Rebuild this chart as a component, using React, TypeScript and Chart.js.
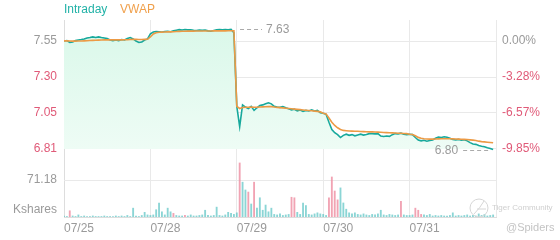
import React, { useEffect, useRef } from 'react';
import { Chart, registerables } from 'chart.js';

Chart.register(...registerables);

// ---- data ----
const dates = ['07/25', '07/28', '07/29', '07/30', '07/31'];
const PTS_PER_DAY = 30;

const intraday = [
  // 07/25
  7.550, 7.553, 7.540, 7.543, 7.553, 7.557, 7.560, 7.564, 7.571, 7.574, 7.578, 7.574, 7.578, 7.574, 7.571,
  7.567, 7.557, 7.553, 7.557, 7.553, 7.560, 7.557, 7.567, 7.574, 7.564, 7.550, 7.540, 7.543, 7.557, 7.564,
  // 07/28
  7.600, 7.612, 7.615, 7.614, 7.612, 7.615, 7.617, 7.614, 7.620, 7.624, 7.628, 7.626, 7.629, 7.627, 7.628,
  7.624, 7.622, 7.625, 7.623, 7.626, 7.620, 7.617, 7.622, 7.627, 7.629, 7.627, 7.629, 7.628, 7.631, 7.606,
  // 07/29
  7.100, 6.960, 7.110, 7.095, 7.085, 7.100, 7.072, 7.090, 7.105, 7.110, 7.118, 7.124, 7.117, 7.100, 7.095,
  7.093, 7.098, 7.090, 7.083, 7.075, 7.080, 7.068, 7.075, 7.065, 7.072, 7.068, 7.075, 7.068, 7.072, 7.055,
  // 07/30
  7.052, 7.045, 6.990, 6.940, 6.918, 6.905, 6.885, 6.900, 6.908, 6.900, 6.905, 6.897, 6.903, 6.908, 6.902,
  6.906, 6.912, 6.912, 6.910, 6.912, 6.895, 6.892, 6.895, 6.893, 6.905, 6.912, 6.910, 6.915, 6.908, 6.905,
  // 07/31
  6.908, 6.905, 6.885, 6.868, 6.862, 6.866, 6.860, 6.865, 6.868, 6.880, 6.888, 6.885, 6.890, 6.887, 6.880,
  6.872, 6.868, 6.872, 6.866, 6.870, 6.862, 6.850, 6.840, 6.838, 6.830, 6.825, 6.822, 6.815, 6.810, 6.802,
];

const vwap = [
  // 07/25
  7.551, 7.551, 7.550, 7.549, 7.549, 7.550, 7.550, 7.551, 7.552, 7.553, 7.554, 7.555, 7.556, 7.557, 7.558,
  7.558, 7.558, 7.558, 7.558, 7.558, 7.558, 7.559, 7.559, 7.560, 7.561, 7.561, 7.560, 7.560, 7.561, 7.562,
  // 07/28
  7.578, 7.598, 7.607, 7.610, 7.611, 7.612, 7.613, 7.613, 7.614, 7.615, 7.616, 7.617, 7.617, 7.618, 7.618,
  7.618, 7.619, 7.619, 7.619, 7.619, 7.619, 7.619, 7.620, 7.620, 7.620, 7.620, 7.620, 7.621, 7.621, 7.620,
  // 07/29
  7.100, 7.085, 7.092, 7.094, 7.094, 7.095, 7.094, 7.094, 7.095, 7.096, 7.097, 7.098, 7.098, 7.095, 7.093,
  7.091, 7.089, 7.087, 7.085, 7.083, 7.081, 7.079, 7.077, 7.075, 7.073, 7.071, 7.069, 7.067, 7.065, 7.062,
  // 07/30
  7.052, 7.048, 7.020, 6.990, 6.968, 6.952, 6.940, 6.934, 6.932, 6.930, 6.929, 6.928, 6.928, 6.927, 6.926,
  6.925, 6.924, 6.924, 6.923, 6.922, 6.921, 6.920, 6.919, 6.918, 6.917, 6.916, 6.915, 6.914, 6.913, 6.912,
  // 07/31
  6.908, 6.906, 6.897, 6.886, 6.880, 6.877, 6.875, 6.874, 6.874, 6.875, 6.876, 6.877, 6.877, 6.877, 6.877,
  6.876, 6.875, 6.874, 6.873, 6.872, 6.871, 6.869, 6.867, 6.865, 6.860, 6.857, 6.855, 6.853, 6.851, 6.849,
];

// volume in thousand shares
const volume = [
  // 07/25
  2, 1, 12, 2, 1, 4, 1, 2, 1, 1, 2, 1, 1, 1, 2, 1, 1, 1, 2, 1, 2, 1, 3, 1, 17, 2, 1, 3, 9, 4,
  // 07/28
  3, 4, 14, 27, 10, 4, 17, 10, 7, 3, 2, 2, 3, 2, 4, 2, 2, 3, 4, 13, 3, 2, 3, 19, 3, 2, 4, 9, 7, 5,
  // 07/29
  8, 104, 67, 52, 48, 25, 67, 17, 37, 13, 23, 10, 17, 5, 4, 6, 3, 4, 5, 38, 37, 9, 5, 27, 22, 5, 4, 6, 8, 6,
  // 07/30
  5, 3, 37, 77, 50, 33, 56, 27, 15, 8, 6, 8, 5, 4, 6, 4, 3, 5, 4, 6, 13, 4, 3, 5, 4, 3, 4, 30, 4, 3,
  // 07/31
  3, 4, 17, 13, 5, 4, 3, 5, 2, 3, 2, 3, 2, 2, 3, 8, 2, 3, 2, 3, 4, 2, 3, 2, 6, 3, 5, 2, 3, 4,
];

// u = up tick (teal), d = down tick (pink)
const volumeDirection = [
  'uuduuuuuuuuuuuuuuuuuuuuuuuuuuu',
  'uuuuuuuuduuuduuuuuuuuuuuuuuuuu',
  'uduududuuuuuuuuuuuudduuuuuuuuu',
  'uudddduuuuuuuuuuuuuuuuuuuuuduu',
  'uuddduuuuuuuuuuuuuuuuuuuuuuuuu',
].join('').split('');

const priceTicks = [7.55, 7.302, 7.054, 6.806];
const priceTickLabels = ['7.55', '7.30', '7.05', '6.81'];
const pctTickLabels = ['0.00%', '-3.28%', '-6.57%', '-9.85%'];
const volumeTick = 71.18;
const volumeTickLabel = '71.18';
const volumeUnit = 'Kshares';

// ---- style ----
const FONT = "'Liberation Sans', Arial, Helvetica, sans-serif";
const TEAL = '#17a99c';
const ORANGE = '#ec9a45';
const GREY = '#9a9a9a';
const RED = '#e05a78';
const GRID = '#e9e9e9';
const Y_MIN = 6.3375;
const Y_MAX = 7.6947;
const V_MAX = 379;

const xs = intraday.map((_, k) => Math.floor(k / PTS_PER_DAY) + (k % PTS_PER_DAY) / PTS_PER_DAY);

const overlayPlugin = {
  id: 'overlay',
  beforeDatasetsDraw(chart: any) {
    const { ctx, chartArea } = chart;
    const yv = chart.scales.yv;
    const py = Math.round(yv.getPixelForValue(volumeTick)) + 0.5;
    ctx.save();
    ctx.strokeStyle = GRID;
    ctx.lineWidth = 1;
    ctx.beginPath();
    ctx.moveTo(chartArea.left, py);
    ctx.lineTo(chartArea.right, py);
    ctx.stroke();
    ctx.restore();
  },
  afterDraw(chart: any) {
    const { ctx, chartArea, scales } = chart;
    const yv = scales.yv;
    const x = scales.x;
    const y = scales.y;
    ctx.save();
    // volume axis labels
    ctx.font = `12px ${FONT}`;
    ctx.fillStyle = GREY;
    ctx.textAlign = 'right';
    ctx.textBaseline = 'middle';
    ctx.fillText(volumeTickLabel, chartArea.left - 7, yv.getPixelForValue(volumeTick));
    ctx.fillText(volumeUnit, chartArea.left - 7, chartArea.bottom - 7);

    // legend
    ctx.textAlign = 'left';
    ctx.fillStyle = '#22b2a7';
    ctx.fillText('Intraday', chartArea.left, 10);
    ctx.fillStyle = '#f0a04c';
    ctx.fillText('VWAP', chartArea.left + 56, 10);

    // high / low annotations
    let hi = 0;
    let lo = 0;
    intraday.forEach((v, k) => {
      if (v > intraday[hi]) hi = k;
      if (v < intraday[lo]) lo = k;
    });
    ctx.strokeStyle = '#aaaaaa';
    ctx.lineWidth = 1;
    ctx.setLineDash([4, 3]);
    const hx = x.getPixelForValue(xs[hi]);
    const hy = Math.round(y.getPixelForValue(intraday[hi])) + 0.5;
    ctx.beginPath();
    ctx.moveTo(hx + 9, hy);
    ctx.lineTo(hx + 31, hy);
    ctx.stroke();
    const lx = x.getPixelForValue(xs[lo]);
    const ly = Math.round(y.getPixelForValue(intraday[lo])) + 0.5;
    ctx.beginPath();
    ctx.moveTo(lx - 30, ly);
    ctx.lineTo(lx - 3, ly);
    ctx.stroke();
    ctx.setLineDash([]);
    ctx.fillStyle = GREY;
    ctx.textAlign = 'left';
    ctx.fillText(intraday[hi].toFixed(2), hx + 35, hy);
    ctx.textAlign = 'right';
    ctx.fillText(intraday[lo].toFixed(2), lx - 35, ly);

    // watermark
    ctx.strokeStyle = '#d6d6d6';
    ctx.lineWidth = 1;
    ctx.beginPath();
    ctx.arc(479, 208, 9, 0, Math.PI * 2);
    ctx.stroke();
    ctx.beginPath();
    ctx.moveTo(474, 214);
    ctx.quadraticCurveTo(480, 208, 484, 201);
    ctx.moveTo(477, 209);
    ctx.lineTo(486, 209);
    ctx.stroke();
    ctx.fillStyle = '#cfcfcf';
    ctx.textAlign = 'left';
    ctx.font = `8px ${FONT}`;
    ctx.fillText('Tiger Community', 492, 208);
    ctx.font = `11px ${FONT}`;
    ctx.fillStyle = '#c4c4c4';
    ctx.fillText('@Spiders', 506, 228);
    ctx.restore();
  },
};

export default function App() {
  const canvasRef = useRef<HTMLCanvasElement | null>(null);

  useEffect(() => {
    const canvas = canvasRef.current;
    if (!canvas) return;
    const chart = new Chart(canvas, {
      type: 'line',
      data: {
        datasets: [
          {
            type: 'line',
            label: 'VWAP',
            data: vwap.map((v, k) => ({ x: xs[k], y: v })),
            borderColor: ORANGE,
            borderWidth: 1.6,
            pointRadius: 0,
            tension: 0,
            fill: false,
            yAxisID: 'y',
          },
          {
            type: 'line',
            label: 'Intraday',
            data: intraday.map((v, k) => ({ x: xs[k], y: v })),
            borderColor: TEAL,
            borderWidth: 1.6,
            pointRadius: 0,
            tension: 0,
            fill: { value: priceTicks[priceTicks.length - 1] },
            backgroundColor: (c: any) => {
              const ch = c.chart;
              const area = ch.chartArea;
              if (!area || !ch.scales.y) return '#e4faef';
              const g = ch.ctx.createLinearGradient(0, area.top, 0, ch.scales.y.getPixelForValue(priceTicks[3]));
              g.addColorStop(0, '#d9f8e9');
              g.addColorStop(1, '#eefcf5');
              return g;
            },
            yAxisID: 'y',
          },
          {
            type: 'bar',
            label: 'Volume',
            data: volume.map((v, k) => ({ x: xs[k], y: v })),
            backgroundColor: volumeDirection.map((d) =>
              d === 'd' ? 'rgba(238,140,160,0.8)' : 'rgba(90,195,195,0.7)'
            ),
            barThickness: 1.2,
            grouped: false,
            yAxisID: 'yv',
          } as any,
        ],
      },
      plugins: [overlayPlugin],
      options: {
        animation: false,
        responsive: true,
        maintainAspectRatio: false,
        layout: { padding: { top: 20, left: 0, right: 0, bottom: 0 } },
        plugins: { legend: { display: false }, tooltip: { enabled: false } },
        scales: {
          x: {
            type: 'linear',
            min: 0,
            max: 5,
            offset: false,
            afterBuildTicks: (ax: any) => {
              ax.ticks = [0, 1, 2, 3, 4, 5].map((v) => ({ value: v }));
            },
            afterFit: (s: any) => {
              s.height = 23;
            },
            ticks: {
              callback: (_v: any, i: number) => dates[i] ?? '',
              align: 'start',
              color: GREY,
              font: { size: 12, family: FONT },
              padding: 4,
              maxRotation: 0,
              autoSkip: false,
            },
            grid: { color: GRID, drawTicks: false, offset: false },
            border: { color: '#dddddd' },
          },
          y: {
            type: 'linear',
            position: 'left',
            min: Y_MIN,
            max: Y_MAX,
            afterBuildTicks: (ax: any) => {
              ax.ticks = priceTicks.map((v) => ({ value: v }));
            },
            afterFit: (s: any) => {
              s.width = 64;
            },
            ticks: {
              callback: (_v: any, i: number) => priceTickLabels[i],
              color: (c: any) => (c.index === 0 ? GREY : RED),
              font: { size: 12, family: FONT },
              padding: 7,
            },
            grid: { color: GRID, drawTicks: false },
            border: { color: '#dddddd' },
          },
          y2: {
            type: 'linear',
            position: 'right',
            min: Y_MIN,
            max: Y_MAX,
            afterBuildTicks: (ax: any) => {
              ax.ticks = priceTicks.map((v) => ({ value: v }));
            },
            afterFit: (s: any) => {
              s.width = 64;
            },
            ticks: {
              callback: (_v: any, i: number) => pctTickLabels[i],
              color: (c: any) => (c.index === 0 ? GREY : RED),
              font: { size: 12, family: FONT },
              padding: 6,
            },
            grid: { drawOnChartArea: false, drawTicks: false },
            border: { display: false },
          },
          yv: {
            type: 'linear',
            display: false,
            min: 0,
            max: V_MAX,
          },
        },
      } as any,
    });
    return () => chart.destroy();
  }, []);

  return (
    <div style={{ position: 'fixed', left: 0, top: 0, width: 560, height: 240, background: '#fff' }}>
      <canvas ref={canvasRef} />
    </div>
  );
}
